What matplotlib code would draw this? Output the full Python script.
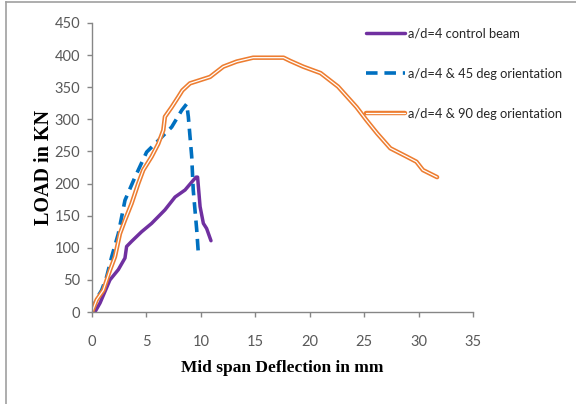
import matplotlib
matplotlib.use("Agg")
import matplotlib.pyplot as plt
from matplotlib.lines import Line2D

# Data
ctrl_x = [0.27, 0.74, 1.65, 2.42, 3.03, 3.18, 3.64, 4.56, 5.48, 6.7, 7.63, 8.55, 9.3, 9.56, 9.7, 9.93, 10.23, 10.53, 10.93]
ctrl_y = [0, 14, 50, 66, 84, 102, 110, 125, 138, 159, 179, 190, 205, 210, 210, 164, 138, 130, 111]

d45_x = [0.0, 0.4, 0.89, 1.35, 1.81, 2.42, 3.03, 3.95, 5.02, 6.09, 7.32, 8.24, 8.7, 8.85, 9.16, 9.3, 9.62, 9.77]
d45_y = [0, 20, 34, 55, 86, 122, 174, 210, 249, 267, 288, 314, 324, 304, 242, 190, 128, 91]

d90_x = [0.0, 0.43, 1.04, 1.65, 2.11, 2.57, 3.03, 3.64, 4.25, 4.71, 5.48, 6.09, 6.55, 6.7, 7.32, 7.93, 8.3, 9.0,
         10.84, 12.06, 13.3, 14.8, 17.6, 18.2, 19.4, 21.0, 22.6, 24.3, 25.2, 26.2, 27.4, 28.9, 29.8, 30.4, 31.7]
d90_y = [0, 19, 34, 65, 86, 122, 143, 169, 200, 221, 242, 262, 283, 304, 319, 335, 345, 356,
         366, 382, 390, 396, 396, 391, 382, 372, 351, 319, 299, 278, 255, 242, 234, 221, 210]

labels = ["a/d=4 control beam", "a/d=4 & 45 deg orientation", "a/d=4 & 90 deg orientation"]
xticks = [0, 5, 10, 15, 20, 25, 30, 35]
yticks = [0, 50, 100, 150, 200, 250, 300, 350, 400, 450]

purple = "#7030A0"
blue = "#0070C0"
orange = "#ED7D31"
gray = "#868686"
tickgray = "#595959"
sans = ["Lato", "DejaVu Sans"]

fig = plt.figure(figsize=(5.76, 4.04), dpi=100)
ax = fig.add_axes([0.1597, 0.2277, 0.8212 - 0.1597, 0.9431 - 0.2277])

l1, = ax.plot(ctrl_x, ctrl_y, color=purple, lw=2.5, solid_capstyle="round", solid_joinstyle="round")
l2, = ax.plot(d45_x, d45_y, color=blue, lw=2.6, dashes=(3.2, 1.9), dash_capstyle="butt")
l3a, = ax.plot(d90_x, d90_y, color=orange, lw=3.2, solid_joinstyle="round", solid_capstyle="round")
l3b, = ax.plot(d90_x, d90_y, color="white", lw=0.9, solid_joinstyle="round", solid_capstyle="round")

ax.set_xlim(0, 35)
ax.set_ylim(0, 450)
ax.set_xticks(xticks)
ax.set_yticks(yticks)
for s in ["top", "right"]:
    ax.spines[s].set_visible(False)
for s in ["left", "bottom"]:
    ax.spines[s].set_color(gray)
    ax.spines[s].set_linewidth(1.0)
ax.tick_params(axis="both", direction="out", length=3.5, width=1.0, color=gray,
               labelcolor=tickgray, labelsize=10.5)
ax.tick_params(axis="x", pad=13)
ax.tick_params(axis="y", pad=5)
for lab in ax.get_xticklabels() + ax.get_yticklabels():
    lab.set_family(sans)

ax.set_xlabel("Mid span Deflection in mm", family=["Liberation Serif"], fontweight="bold",
              fontsize=12.5, labelpad=8)
ax.set_ylabel("LOAD in KN", family=["Liberation Serif"], fontweight="bold",
              fontsize=14.5, labelpad=0.5)

leg = ax.legend([l1, l2, (l3a, l3b)], labels, loc="upper left",
                bbox_to_anchor=(366 / 576, 1 - 28 / 404), bbox_transform=fig.transFigure,
                frameon=False, handlelength=3.0, handletextpad=0.25, labelspacing=2.15,
                borderaxespad=0, borderpad=0,
                prop={"family": sans, "size": 9.3})
for t in leg.get_texts():
    t.set_color("#262626")

# outer border (top and left edges)
fig.add_artist(Line2D([6 / 576, 6 / 576], [0, 1 - 2 / 404], transform=fig.transFigure,
                      color="#A0A0A0", lw=1.2))
fig.add_artist(Line2D([6 / 576, 1], [1 - 2 / 404, 1 - 2 / 404], transform=fig.transFigure,
                      color="#A0A0A0", lw=1.2))

fig.savefig("out.png", dpi=100)
